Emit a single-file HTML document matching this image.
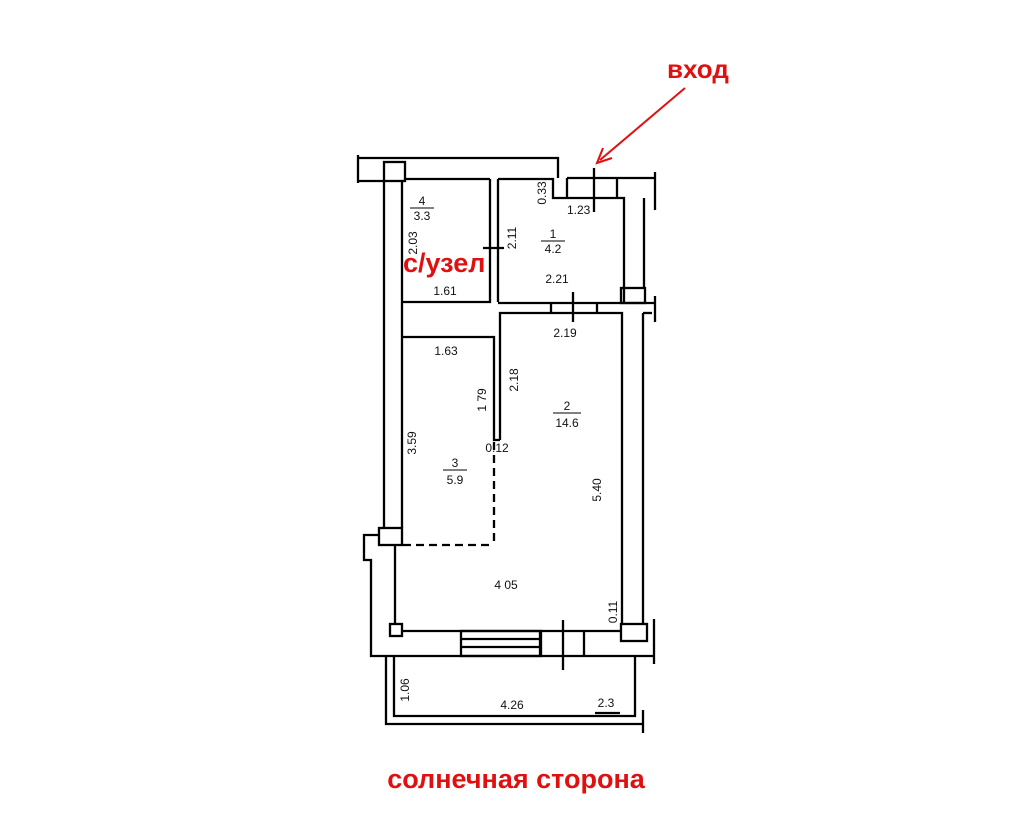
<!DOCTYPE html>
<html><head><meta charset="utf-8"><style>
html,body{margin:0;padding:0;background:#fff;width:1024px;height:835px;overflow:hidden}
svg{display:block}
text{font-family:"Liberation Sans",sans-serif;fill:#111;font-size:12px}
.r{fill:#e01010;font-weight:bold}
</style></head><body>
<svg width="1024" height="835" viewBox="0 0 1024 835" xmlns="http://www.w3.org/2000/svg">
<g stroke="#000" stroke-width="2.3" fill="none">
<polyline points="358,158 558,158 558,178"/>
<line x1="358" y1="155" x2="358" y2="183"/>
<line x1="358" y1="181" x2="384" y2="181"/>
<rect x="384" y="162" width="21" height="19"/>
<line x1="405" y1="179" x2="490" y2="179"/>
<polyline points="498,179 553,179 553,198 624,198 624,302"/>
<line x1="567" y1="178" x2="655" y2="178"/>
<line x1="567" y1="178" x2="567" y2="198"/>
<line x1="617" y1="178" x2="617" y2="198"/>
<line x1="655" y1="172" x2="655" y2="210"/>
<line x1="644" y1="198" x2="644" y2="288"/>
<line x1="594" y1="168" x2="594" y2="212"/>
<rect x="621" y="288" width="24" height="15"/>
<line x1="384" y1="181" x2="384" y2="528"/>
<line x1="402" y1="181" x2="402" y2="528"/>
<polyline points="402,302 490,302 490,179"/>
<line x1="498" y1="179" x2="498" y2="302"/>
<line x1="483" y1="248" x2="504" y2="248"/>
<line x1="498" y1="303" x2="655" y2="303"/>
<polyline points="500,440 500,313 622,313 622,625"/>
<line x1="643" y1="313" x2="643" y2="625"/>
<line x1="655" y1="296" x2="655" y2="322"/>
<line x1="652" y1="313" x2="643" y2="313"/>
<line x1="551" y1="303" x2="551" y2="313"/>
<line x1="597" y1="303" x2="597" y2="313"/>
<line x1="573" y1="292" x2="573" y2="322"/>
<polyline points="402,337 494,337 494,440 500,440"/>
<line x1="494" y1="442" x2="494" y2="545" stroke-dasharray="8,5"/>
<line x1="403" y1="545" x2="494" y2="545" stroke-dasharray="8,5"/>
<rect x="379" y="528" width="23" height="17"/>
<polyline points="379,535 364,535 364,560 371,560 371,656 655,656"/>
<line x1="395" y1="545" x2="395" y2="624"/>
<rect x="390" y="624" width="12" height="12"/>
<line x1="402" y1="631" x2="621" y2="631"/>
<rect x="621" y="624" width="26" height="17"/>
<line x1="654" y1="619" x2="654" y2="664"/>
<rect x="461" y="631" width="80" height="25"/>
<line x1="461" y1="639" x2="540" y2="639"/>
<line x1="461" y1="647" x2="540" y2="647"/>
<line x1="540" y1="631" x2="540" y2="656"/>
<line x1="563" y1="620" x2="563" y2="670"/>
<line x1="584" y1="631" x2="584" y2="656"/>
<polyline points="386,657 386,724 643,724"/>
<polyline points="394,657 394,716 635,716 635,657"/>
<line x1="643" y1="710" x2="643" y2="733"/>
<line x1="595" y1="713" x2="620" y2="713"/>
<line x1="685" y1="88" x2="600" y2="160" stroke="#e01010" stroke-width="2"/>
<polyline points="603,148 597,163 612,158" stroke="#e01010" stroke-width="2"/>
</g>
<text x="422" y="205" text-anchor="middle">4</text>
<line x1="410" y1="208" x2="434" y2="208" stroke="#000"/>
<text x="422" y="220" text-anchor="middle">3.3</text>
<text x="553" y="238" text-anchor="middle">1</text>
<line x1="541" y1="241" x2="565" y2="241" stroke="#000"/>
<text x="553" y="253" text-anchor="middle">4.2</text>
<text x="567" y="214">1.23</text>
<text x="557" y="283" text-anchor="middle">2.21</text>
<text x="445" y="295" text-anchor="middle">1.61</text>
<text x="565" y="337" text-anchor="middle">2.19</text>
<text x="446" y="355" text-anchor="middle">1.63</text>
<text x="567" y="410" text-anchor="middle">2</text>
<line x1="553" y1="413" x2="581" y2="413" stroke="#000"/>
<text x="567" y="427" text-anchor="middle">14.6</text>
<text x="455" y="467" text-anchor="middle">3</text>
<line x1="443" y1="470" x2="467" y2="470" stroke="#000"/>
<text x="455" y="484" text-anchor="middle">5.9</text>
<text x="497" y="452" text-anchor="middle">0.12</text>
<text x="506" y="589" text-anchor="middle">4 05</text>
<text x="512" y="709" text-anchor="middle">4.26</text>
<text x="606" y="707" text-anchor="middle">2.3</text>
<text transform="translate(546,193) rotate(-90)" text-anchor="middle">0.33</text>
<text transform="translate(417,243) rotate(-90)" text-anchor="middle">2.03</text>
<text transform="translate(516,238) rotate(-90)" text-anchor="middle">2.11</text>
<text transform="translate(518,380) rotate(-90)" text-anchor="middle">2.18</text>
<text transform="translate(486,400) rotate(-90)" text-anchor="middle">1 79</text>
<text transform="translate(416,443) rotate(-90)" text-anchor="middle">3.59</text>
<text transform="translate(601,490) rotate(-90)" text-anchor="middle">5.40</text>
<text transform="translate(617,612) rotate(-90)" text-anchor="middle">0.11</text>
<text transform="translate(409,690) rotate(-90)" text-anchor="middle">1.06</text>
<text class="r" x="667" y="78" style="font-size:26px">вход</text>
<text class="r" x="403" y="272" style="font-size:27px">с/узел</text>
<text class="r" x="516" y="788" text-anchor="middle" style="font-size:27px">солнечная сторона</text>
</svg>
</body></html>
